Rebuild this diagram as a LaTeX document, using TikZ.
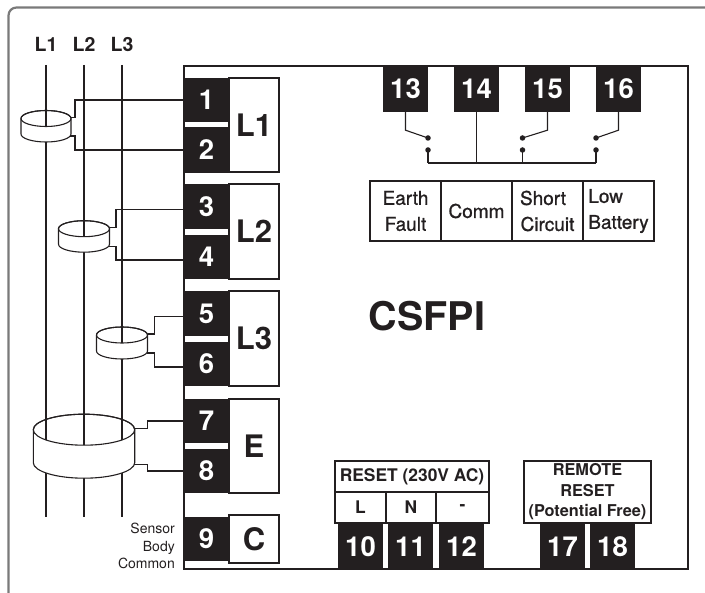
\documentclass[tikz,border=0pt]{standalone}
\usepackage{fontspec}
\setmainfont{TeX Gyre Heros}
\newfontfamily\medfont[FakeBold=1]{TeX Gyre Heros}
\usetikzlibrary{calc}
\definecolor{termblack}{HTML}{231F20}
\definecolor{framegray}{HTML}{7A7A7A}
\newcommand{\fsize}[1]{\fontsize{#1}{#1}\selectfont}
\tikzset{
	wire/.style={draw=termblack, line width=1.1pt},
	termbox/.style={fill=termblack, text=white, inner sep=0, minimum width=45pt, font=\fsize{27.5}\bfseries},
	namebox/.style={draw=termblack, line width=1.1pt, fill=white, inner sep=0, minimum width=50pt, text=termblack, font=\fsize{31}\bfseries},
	cellbox/.style={draw=termblack, line width=1.1pt, inner sep=0, minimum width=71pt, minimum height=60pt, align=center, text=termblack, font=\medfont\fontsize{19}{26}\selectfont},
	resetbox/.style={draw=termblack, line width=1.1pt, inner sep=0, align=center, text=termblack, font=\fsize{17.4}\bfseries},
	swdot/.style={circle, fill=termblack, inner sep=0, minimum size=5.5pt}
}

\begin{document}
\begin{tikzpicture}[x=1pt, y=-1pt]
\useasboundingbox (0,0) rectangle (705,593);

% Draw outer frame
\draw[framegray, line width=2.2pt, rounded corners=8pt] (705,7.5) -- (8.5,7.5) -- (8.5,593);

% Draw phase lines
\foreach \name/\px in {L1/46, L2/84, L3/122}{
	\node[font=\fsize{19.5}\bfseries, text=termblack] (lab\name) at (\px,44) {\name};
	\coordinate (top\name) at (\px,65);
	\coordinate (end\name) at (\px,517);
	\draw[wire] (top\name) -- (end\name);
}

% Draw sensors
\foreach \name/\cx/\cy/\rx/\ry/\tall in {a/46/118.5/25/8/15.5, b/84/228.7/25.5/8/15.5, c/122/335/25.5/8/16, d/84/429.7/50.7/15.5/33}{
	\draw[wire, fill=white] (\cx-\rx,\cy) -- ++(0,\tall) arc[start angle=180, end angle=0, x radius=\rx, y radius=\ry] -- ++(0,-\tall) arc[start angle=0, end angle=-180, x radius=\rx, y radius=\ry];
	\begin{scope}
		\clip (\cx,\cy) ellipse[x radius=\rx, y radius=\ry];
		\draw[wire] (topL1) -- (endL1);
		\draw[wire] (topL2) -- (endL2);
		\draw[wire] (topL3) -- (endL3);
	\end{scope}
	\draw[wire] (\cx,\cy) ellipse[x radius=\rx, y radius=\ry];
	\coordinate (\name up) at (\cx+\rx,\cy-1);
	\coordinate (\name low) at (\cx+\rx-1,\cy+\tall+2);
}

% Draw housing
\draw[wire] (184,66) rectangle (688,569);
\node[font=\fsize{39.5}\bfseries, text=termblack] (title) at (427,316) {CSFPI};

% Draw terminals
\foreach \num/\px/\py/\tall in {1/206.5/100/44, 2/206.5/150/46, 3/206.5/206.5/45, 4/206.5/257/44, 5/206.5/313.5/45, 6/206.5/364/44, 7/206.5/421/44, 8/206.5/471/44, 9/206.5/539/44,
	13/405.5/89/46, 14/476.5/89/46, 15/547.5/89/46, 16/618.5/89/46,
	10/360.5/546.5/45, 11/410.5/546.5/45, 12/461.5/546.5/45, 17/562.5/546.5/45, 18/612.5/546.5/45}{
	\node[termbox, minimum height=\tall pt] (t\num) at (\px,\py) {\num};
}
\foreach \name/\py/\tall in {L1/125/94, L2/231.5/95, L3/338.5/95, E/446/94, C/539/48}{
	\node[namebox, minimum height=\tall pt] (box\name) at (254,\py) {\name};
}

% Draw sensor wires
\foreach \name/\tup/\tlow/\len/\off in {a/1/2/4/0, b/3/4/6.5/-3, c/5/6/7/-3, d/7/8/12.5/0}{
	\draw[wire] (\name up) -- ++(\len,0) |- ([yshift=\off pt]t\tup.west);
	\draw[wire] (\name low) -- ++(\len+1,0) |- ([yshift=\off pt]t\tlow.west);
}
\node[align=right, anchor=east, inner sep=0, font=\fontsize{14}{17.5}\selectfont, text=termblack] (common) at (175,546) {Sensor\\Body\\Common};

% Draw relay contacts
\foreach \num/\px in {13/428, 15/522.5, 16/596}{
	\node[swdot] (sw\num) at (\px,138) {};
	\node[swdot] (fix\num) at (\px,150) {};
	\draw[wire] (t\num.south) -- ++(0,18) -- (sw\num.center);
	\draw[wire] (fix\num.center) -- ++(0,13) coordinate (bus\num);
}
\draw[wire] (bus13) -- (bus16);
\draw[wire] (t14.south) -- (t14.south |- bus13);

% Draw indication table
\node[cellbox] (earth) at (405.5,211) {Earth\\Fault};
\node[cellbox] (comm) at (476.5,211) {Comm};
\node[cellbox] (short) at (547.5,211) {Short\hspace*{9pt}\\Circuit};
\node[cellbox, align=left] (low) at (618.5,211) {Low\\Battery};

% Draw reset boxes
\node[resetbox, minimum width=154pt, minimum height=31pt] (reset) at (412,476.5) {RESET (230V AC)};
\node[resetbox, minimum width=51pt, minimum height=31pt] (rl) at (360.5,507.5) {L};
\node[resetbox, minimum width=50pt, minimum height=31pt] (rn) at (411,507.5) {N};
\node[resetbox, minimum width=53pt, minimum height=31pt] (rm) at (462.5,507.5) {-};
\node[resetbox, minimum width=127pt, minimum height=62pt, font=\fontsize{16.3}{20.5}\selectfont\bfseries] (remote) at (587.5,492) {REMOTE\\RESET\\(Potential Free)};
\end{tikzpicture}
\end{document}
